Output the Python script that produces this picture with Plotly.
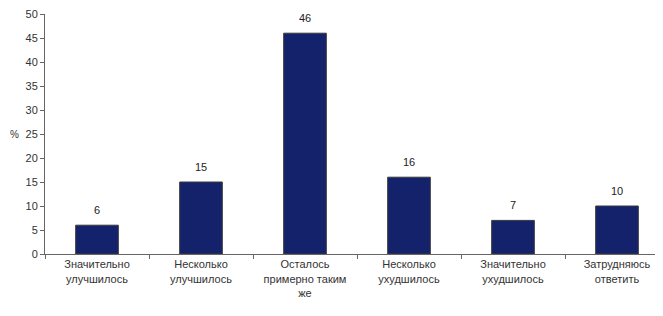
import plotly.graph_objects as go

categories = ["Значительно<br>улучшилось", "Несколько<br>улучшилось", "Осталось<br>примерно таким<br>же",
              "Несколько<br>ухудшилось", "Значительно<br>ухудшилось", "Затрудняюсь<br>ответить"]
values = [6, 15, 46, 16, 7, 10]
y_ticks = [0, 5, 10, 15, 20, 25, 30, 35, 40, 45, 50]

fig = go.Figure(go.Bar(
    x=categories, y=values, width=0.41,
    marker=dict(color="#14226b", line=dict(color="#3a3a3a", width=1)),
))
for c, v in zip(categories, values):
    fig.add_annotation(x=c, y=v, text=str(v), showarrow=False, yshift=15,
                       font=dict(size=11, color="#222222"))
fig.update_layout(
    width=663, height=316, margin=dict(l=37, r=2, t=6, b=70),
    paper_bgcolor="white", plot_bgcolor="white", showlegend=False,
    font=dict(family="Liberation Sans, Arial", size=10, color="#333"),
)
fig.update_xaxes(showline=True, linecolor="#666", linewidth=1, ticks="outside", tickson="boundaries",
                 ticklen=4, tickcolor="#666", showgrid=False, automargin=False,
                 ticklabeloverflow="allow", tickfont=dict(size=11, color="#333"))
fig.update_yaxes(range=[0, 50], tickvals=y_ticks, showline=True, linecolor="#666", linewidth=1,
                 ticks="outside", ticklen=4, tickcolor="#666", showgrid=False, zeroline=False,
                 automargin=False, ticklabeloverflow="allow", tickfont=dict(size=11, color="#333"))
fig.add_annotation(text="%", xref="paper", yref="y", x=0, y=25, xshift=-37, showarrow=False,
                   font=dict(size=10, color="#333"), xanchor="left")
fig.write_html("out.html")
